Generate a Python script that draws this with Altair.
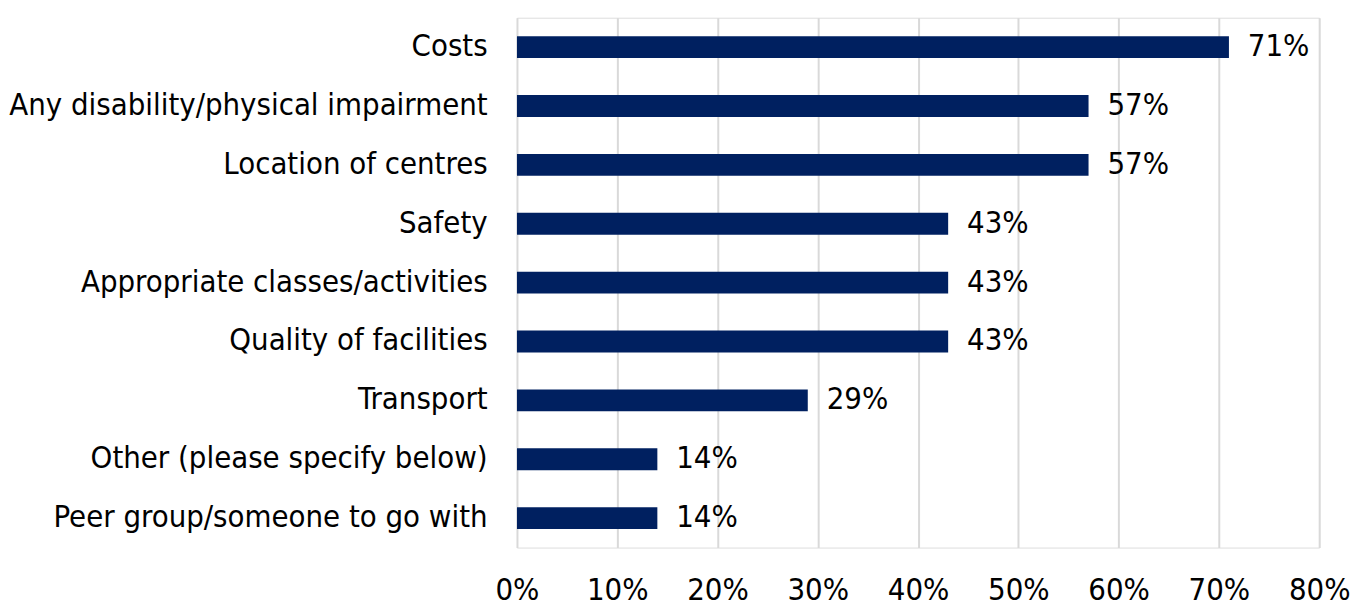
import altair as alt
import pandas as pd

categories = [
    "Costs",
    "Any disability/physical impairment",
    "Location of centres",
    "Safety",
    "Appropriate classes/activities",
    "Quality of facilities",
    "Transport",
    "Other (please specify below)",
    "Peer group/someone to go with",
]
values = [0.71, 0.57, 0.57, 0.43, 0.43, 0.43, 0.29, 0.14, 0.14]
x_ticks = [0, 0.1, 0.2, 0.3, 0.4, 0.5, 0.6, 0.7, 0.8]

df = pd.DataFrame({"category": categories, "value": values})

FONT = "DejaVu Sans Condensed"
FS = 31

base = alt.Chart(df).encode(
    y=alt.Y(
        "category:N",
        sort=categories,
        title=None,
        scale=alt.Scale(paddingInner=0.63, paddingOuter=0.315),
        axis=alt.Axis(
            domain=False, ticks=False, grid=False,
            labelFont=FONT, labelFontSize=FS, labelColor="#000000",
            labelPadding=30, labelLimit=600,
            minExtent=508, maxExtent=508,
        ),
    ),
    x=alt.X(
        "value:Q",
        title=None,
        scale=alt.Scale(domain=[0, 0.8], nice=False),
        axis=alt.Axis(
            values=x_ticks, format=".0%",
            domain=False, ticks=False, labelFlush=False,
            grid=True, gridColor="#d9d9d9", gridWidth=2,
            labelFont=FONT, labelFontSize=FS, labelColor="#000000",
            labelPadding=28,
        ),
    ),
)

bars = base.mark_bar(color="#002060", size=22)
labels = base.mark_text(
    align="left", baseline="middle", dx=19,
    font=FONT, fontSize=FS, color="#000000",
).encode(text=alt.Text("value:Q", format=".0%"))

chart = (
    (bars + labels)
    .properties(
        width=807, height=533,
        padding={"left": 0, "top": 8, "right": 0, "bottom": 0},
    )
    .configure_view(stroke=None, fill=None)
    .configure_axis(domain=False)
    .configure(background="#ffffff")
)

chart.save("out.html", embed_options={"renderer": "svg", "actions": False})
